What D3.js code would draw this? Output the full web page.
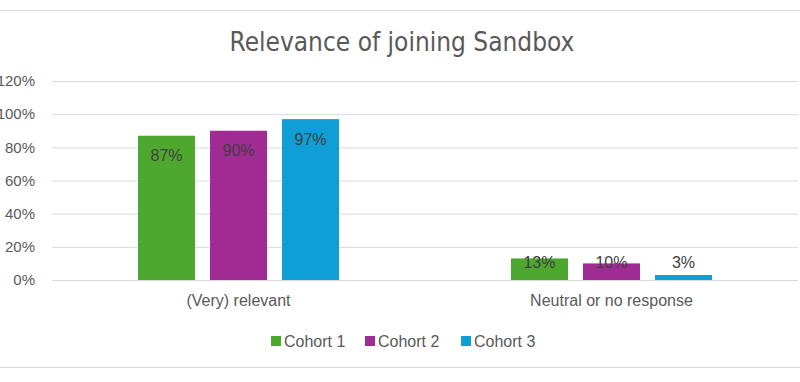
<!DOCTYPE html>
<html>
<head>
<meta charset="utf-8">
<script src="https://cdn.jsdelivr.net/npm/d3@7"></script>
<style>
  body { margin: 0; background: #fff; }
  svg { display: block; font-family: "Liberation Sans", Arial, sans-serif; }
</style>
</head>
<body>
<svg id="chart" width="800" height="382"></svg>
<script>
var categories = ["(Very) relevant", "Neutral or no response"];
var series = ["Cohort 1", "Cohort 2", "Cohort 3"];
var cohort1 = [87, 13];
var cohort2 = [90, 10];
var cohort3 = [97, 3];
var yTicks = [0, 20, 40, 60, 80, 100, 120];
var colors = ["#4ea72e", "#a02b93", "#0f9ed5"];

var values = [cohort1, cohort2, cohort3];
var rows = categories.map(function(c, i){
  return { cat: c, vals: series.map(function(s, j){ return { s: s, i: j, v: values[j][i] }; }) };
});

var svg = d3.select("#chart");
var width = 800, height = 382;

// chart frame lines
svg.append("line").attr("x1", 0).attr("x2", width).attr("y1", 10.5).attr("y2", 10.5)
   .style("stroke", "#d9d9d9").style("stroke-width", 1);
svg.append("line").attr("x1", 0).attr("x2", width).attr("y1", 367.5).attr("y2", 367.5)
   .style("stroke", "#d9d9d9").style("stroke-width", 1);

var plot = { left: 52, right: 798, top: 81, bottom: 280 };

var x0 = d3.scaleBand().domain(categories).range([plot.left, plot.right])
   .paddingInner(0.461).paddingOuter(0.2306);
var x1 = d3.scaleBand().domain(series).range([0, x0.bandwidth()])
   .paddingInner(0.208).paddingOuter(0);
var y = d3.scaleLinear().domain([0, 120]).range([plot.bottom, plot.top]);

// title
svg.append("text")
   .attr("x", 402).attr("y", 51)
   .attr("text-anchor", "middle")
   .style("font-family", "'Liberation Sans Narrow', 'DejaVu Sans Condensed', sans-serif")
   .style("font-size", "26px")
   .style("fill", "#595959")
   .text("Relevance of joining Sandbox");

// y axis + gridlines
var yAxis = svg.append("g")
   .attr("transform", "translate(" + plot.left + ",0)")
   .call(d3.axisLeft(y).tickValues(yTicks)
         .tickSize(-(plot.right - plot.left))
         .tickPadding(17)
         .tickFormat(function(d){ return d + "%"; }));
yAxis.select(".domain").remove();
yAxis.selectAll(".tick line").style("stroke", "#d9d9d9");
yAxis.selectAll(".tick text")
   .style("font-size", "15px")
   .style("fill", "#595959")
   .style("font-family", "'Liberation Sans', Arial, sans-serif");

// bars
var groups = svg.selectAll("g.cat")
   .data(rows)
   .enter().append("g")
   .attr("class", "cat")
   .attr("transform", function(d){ return "translate(" + x0(d.cat) + ",0)"; });

groups.selectAll("rect")
   .data(function(d){ return d.vals; })
   .enter().append("rect")
   .attr("x", function(d){ return x1(d.s); })
   .attr("y", function(d){ return y(d.v); })
   .attr("width", x1.bandwidth())
   .attr("height", function(d){ return y(0) - y(d.v); })
   .style("fill", function(d){ return colors[d.i]; });

groups.selectAll("text.lbl")
   .data(function(d){ return d.vals; })
   .enter().append("text")
   .attr("class", "lbl")
   .attr("x", function(d){ return x1(d.s) + x1.bandwidth() / 2; })
   .attr("y", function(d){ return Math.min(y(d.v) + 20, y(0) - 18); })
   .attr("dy", "0.35em")
   .attr("text-anchor", "middle")
   .style("font-size", "16px")
   .style("fill", "#404040")
   .text(function(d){ return d.v + "%"; });

// category axis labels
var xAxis = svg.append("g")
   .attr("transform", "translate(0," + plot.bottom + ")")
   .call(d3.axisBottom(x0).tickSize(0).tickPadding(15));
xAxis.select(".domain").remove();
xAxis.selectAll(".tick text")
   .style("font-size", "16px")
   .style("fill", "#595959")
   .style("font-family", "'Liberation Sans', Arial, sans-serif");

// legend
var legendX = [271, 365, 461];
var legend = svg.selectAll("g.legend")
   .data(series)
   .enter().append("g")
   .attr("class", "legend")
   .attr("transform", function(d, i){ return "translate(" + legendX[i] + ",336)"; });
legend.append("rect")
   .attr("width", 10).attr("height", 10)
   .style("fill", function(d, i){ return colors[i]; });
legend.append("text")
   .attr("x", 13).attr("y", 5)
   .attr("dy", "0.35em")
   .style("font-size", "16px")
   .style("fill", "#595959")
   .text(function(d){ return d; });
</script>
</body>
</html>
